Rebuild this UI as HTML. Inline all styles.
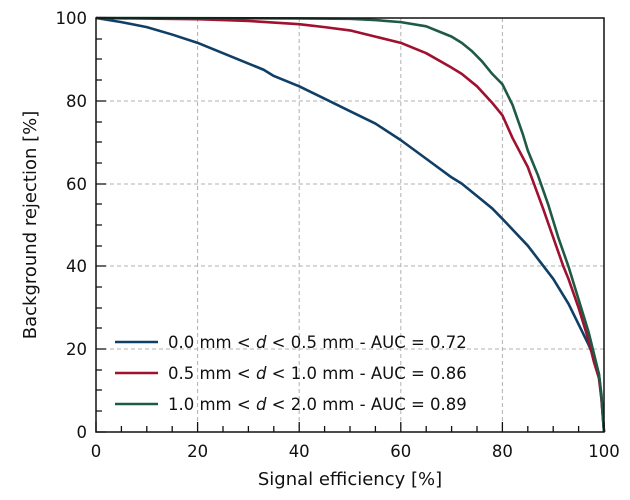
<!DOCTYPE html>
<html><head><meta charset="utf-8"><style>body{margin:0;background:#fff}svg{display:block;font-family:"DejaVu Sans","Liberation Sans",sans-serif}</style></head>
<body>
<svg width="630" height="500" viewBox="0 0 630 500" xmlns="http://www.w3.org/2000/svg">
<g stroke="#b0b0b0" stroke-width="1" stroke-dasharray="4,3">
<line x1="197.6" y1="18" x2="197.6" y2="432"/><line x1="299.2" y1="18" x2="299.2" y2="432"/><line x1="400.8" y1="18" x2="400.8" y2="432"/><line x1="502.4" y1="18" x2="502.4" y2="432"/>
<line x1="96" y1="101" x2="604" y2="101"/><line x1="96" y1="184" x2="604" y2="184"/><line x1="96" y1="266" x2="604" y2="266"/><line x1="96" y1="349" x2="604" y2="349"/>
</g>
<g transform="translate(96,432) scale(5.08,-4.14)" fill="none" stroke-width="2.6" stroke-linejoin="round">
<polyline vector-effect="non-scaling-stroke" stroke="#0f3f66" points="0,100 5,99 10,97.8 15,96 20,94 25,91.5 30,89 33,87.5 35,86 40,83.5 45,80.5 50,77.5 55,74.5 60,70.5 65,66 70,61.5 72,60 75,57 78,54 80,51.5 85,45 90,37 93,31 95,26 97,21 98,18 99,14 99.5,8 100,0"/>
<polyline vector-effect="non-scaling-stroke" stroke="#a0102f" points="0,100 20,99.7 30,99.3 40,98.5 45,97.8 50,97 55,95.5 60,94 65,91.5 70,88 72,86.5 75,83.5 78,79.5 80,76.5 82,71 85,64 88,54 90,47 92,40 93,37 95,30 97,22 98,17 99,13 99.5,8 100,0"/>
<polyline vector-effect="non-scaling-stroke" stroke="#1e5a44" points="0,100 40,99.9 50,99.8 55,99.5 60,99 65,98 68,96.5 70,95.5 72,94 74,92 76,89.5 78,86.5 80,84 82,79 84,72 85,68 87,62 89,55 91,47 93,40 95,32 97,24 98,19 99,14 99.5,9 100,0"/>
</g>
<rect x="96" y="18" width="508" height="414" fill="none" stroke="#111" stroke-width="1.5"/>
<g stroke="#111" stroke-width="1.3">
<path d="M96 18h10M96 101h10M96 184h10M96 266h10M96 349h10M96 432h10"/>
<path d="M96 39h6M96 59h6M96 80h6M96 122h6M96 142h6M96 163h6M96 204h6M96 225h6M96 246h6M96 287h6M96 308h6M96 328h6M96 370h6M96 390h6M96 411h6"/>
<path d="M96 432v-10M197.6 432v-10M299.2 432v-10M400.8 432v-10M502.4 432v-10M604 432v-10"/>
<path d="M121.4 432v-6M146.8 432v-6M172.2 432v-6M223 432v-6M248.4 432v-6M273.8 432v-6M324.6 432v-6M350 432v-6M375.4 432v-6M426.2 432v-6M451.6 432v-6M477 432v-6M527.8 432v-6M553.2 432v-6M578.6 432v-6"/>
</g>
<g font-size="16.5" fill="#111" text-anchor="end">
<text x="87" y="24">100</text><text x="87" y="107">80</text><text x="87" y="190">60</text><text x="87" y="272">40</text><text x="87" y="355">20</text><text x="87" y="438">0</text>
</g>
<g font-size="16.5" fill="#111" text-anchor="middle">
<text x="96" y="457">0</text><text x="197.6" y="457">20</text><text x="299.2" y="457">40</text><text x="400.8" y="457">60</text><text x="502.4" y="457">80</text><text x="604" y="457">100</text>
<text x="350" y="485" font-size="18">Signal efficiency [%]</text>
<text transform="translate(36,225) rotate(-90)" font-size="18">Background rejection [%]</text>
</g>
<g stroke-width="2.6"><line x1="115" y1="342" x2="158" y2="342" stroke="#0f3f66"/><line x1="115" y1="373" x2="158" y2="373" stroke="#a0102f"/><line x1="115" y1="404" x2="158" y2="404" stroke="#1e5a44"/></g>
<g font-size="16.5" fill="#111">
<text x="168" y="348">0.0 mm &lt; <tspan font-style="italic">d</tspan> &lt; 0.5 mm - AUC = 0.72</text>
<text x="168" y="379">0.5 mm &lt; <tspan font-style="italic">d</tspan> &lt; 1.0 mm - AUC = 0.86</text>
<text x="168" y="410">1.0 mm &lt; <tspan font-style="italic">d</tspan> &lt; 2.0 mm - AUC = 0.89</text>
</g>
</svg>
</body></html>
